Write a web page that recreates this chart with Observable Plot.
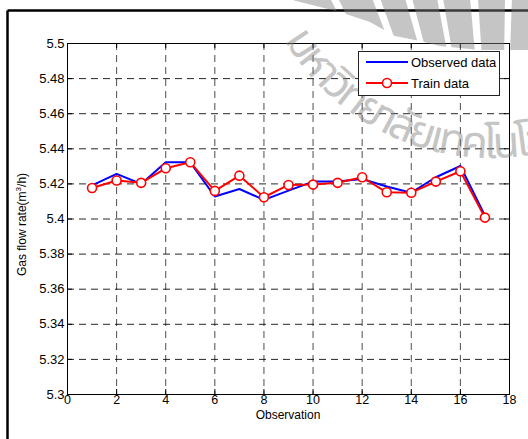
<!DOCTYPE html>
<html>
<head>
<meta charset="utf-8">
<script src="https://cdn.jsdelivr.net/npm/d3@7"></script>
<script src="https://cdn.jsdelivr.net/npm/@observablehq/plot@0.6"></script>
<style>
  html, body { margin: 0; padding: 0; background: #fff; }
  #chart { width: 528px; height: 439px; position: relative; overflow: hidden; }
  svg { display: block; }
</style>
</head>
<body>
<div id="chart"></div>
<script>
// ---- data ----
const observation = [1, 2, 3, 4, 5, 6, 7, 8, 9, 10, 11, 12, 13, 14, 15, 16, 17];
const observed = [5.4192, 5.4257, 5.4200, 5.4323, 5.4323, 5.4128, 5.4171, 5.4109, 5.4162, 5.4213, 5.4213, 5.4228, 5.4185, 5.4150, 5.4238, 5.4302, 5.4019];
const train = [5.4177, 5.4219, 5.4206, 5.4289, 5.4323, 5.4160, 5.4247, 5.4124, 5.4194, 5.4196, 5.4206, 5.4238, 5.4152, 5.4150, 5.4213, 5.4272, 5.4008];
const xTicks = [0, 2, 4, 6, 8, 10, 12, 14, 16, 18];
const yTicks = [5.3, 5.32, 5.34, 5.36, 5.38, 5.4, 5.42, 5.44, 5.46, 5.48, 5.5];
const xTickLabels = ["0", "2", "4", "6", "8", "10", "12", "14", "16", "18"];
const yTickLabels = ["5.3", "5.32", "5.34", "5.36", "5.38", "5.4", "5.42", "5.44", "5.46", "5.48", "5.5"];
const seriesNames = ["Observed data", "Train data"];
const xLabel = "Observation";
const yLabelParts = ["Gas flow rate(m", "3", "/h)"];
const watermarkText = "มหาวิทยาลัยเทคโนโลยีสุรนารี";

const obsRows = observation.map((o, i) => ({o, v: observed[i]}));
const trainRows = observation.map((o, i) => ({o, v: train[i]}));

const W = 528, H = 439, mL = 67, mR = 19, mT = 43, mB = 45;
const plotW = W - mL - mR, plotH = H - mT - mB;
const tickLen = 5;
const xInner = xTicks.slice(1, -1), yInner = yTicks.slice(1, -1);
const FONT = "'Liberation Sans', Arial, Helvetica, sans-serif";

const chart = Plot.plot({
  width: W, height: H,
  marginLeft: mL, marginRight: mR, marginTop: mT, marginBottom: mB,
  style: {fontFamily: FONT, fontSize: "13px", background: "transparent", color: "#000"},
  x: {domain: [0, 18]},
  y: {domain: [5.3, 5.5]},
  marks: [
    Plot.gridX(xInner, {stroke: "#000", strokeOpacity: 0.7, strokeDasharray: "7,5"}),
    Plot.gridY(yInner, {stroke: "#000", strokeOpacity: 0.85, strokeDasharray: "7,5"}),
    Plot.line(obsRows, {x: "o", y: "v", stroke: "#0000ff", strokeWidth: 2}),
    Plot.line(trainRows, {x: "o", y: "v", stroke: "#ff0000", strokeWidth: 2}),
    Plot.dot(trainRows, {x: "o", y: "v", r: 4.5, stroke: "#ff0000", strokeWidth: 1.6, fill: "#fff"}),
    Plot.tickX(xTicks, {x: d => d, insetTop: plotH - tickLen, stroke: "#000"}),
    Plot.tickX(xTicks, {x: d => d, insetBottom: plotH - tickLen, stroke: "#000"}),
    Plot.tickY(yTicks, {y: d => d, insetRight: plotW - tickLen, stroke: "#000"}),
    Plot.tickY(yTicks, {y: d => d, insetLeft: plotW - tickLen, stroke: "#000"}),
    Plot.frame({stroke: "#000"}),
    Plot.axisX(xTicks, {tickSize: 0, tickPadding: 1, fontSize: 12.5, label: null, tickFormat: (d) => xTickLabels[xTicks.indexOf(d)]}),
    Plot.axisY(yTicks, {tickSize: 0, tickPadding: 3, label: null, tickFormat: (d) => yTickLabels[yTicks.indexOf(d)]})
  ]
});

document.getElementById("chart").appendChild(chart);

const svg = d3.select(chart);
const defs = svg.append("defs");

// axis titles
svg.append("text").attr("x", mL + plotW / 2).attr("y", 418.5)
  .attr("text-anchor", "middle").attr("font-family", FONT).attr("font-size", 12).attr("fill", "#000")
  .text(xLabel);
const yl = svg.append("text").attr("transform", "translate(25.5,224.5) rotate(-90)")
  .attr("text-anchor", "middle").attr("font-family", FONT).attr("font-size", 12).attr("fill", "#000");
yl.append("tspan").text(yLabelParts[0]);
yl.append("tspan").attr("dy", -4.5).attr("font-size", 8).text(yLabelParts[1]);
yl.append("tspan").attr("dy", 4.5).text(yLabelParts[2]);

// figure border (left and top)
svg.append("line").attr("x1", 7.5).attr("y1", 10.5).attr("x2", W).attr("y2", 10.5)
  .attr("stroke", "#000").attr("stroke-width", 2.5);
svg.append("line").attr("x1", 7.5).attr("y1", 10.5).attr("x2", 7.5).attr("y2", H)
  .attr("stroke", "#000").attr("stroke-width", 2.5);

// watermark (fan stripes + curved Thai text)
const wm = svg.append("g").attr("opacity", 0.45);
defs.append("clipPath").attr("id", "fanclip").append("polygon")
  .attr("points", "285,-2 530,-2 530,50 480,50 440,46 420,41 395,36 370,22 340,12 300,2");
const fan = wm.append("g").attr("clip-path", "url(#fanclip)");
const focal = [500, 330];
const stripes = [[292, 330], [338, 372], [380, 405], [412, 437], [443, 470], [478, 505], [512, 540]];
stripes.forEach(([a, b]) => {
  fan.append("polygon").attr("points", `${a},-2 ${b},-2 ${focal[0]},${focal[1]}`).attr("fill", "#808080");
});
const arcD = "M 284.2,39.8 A 240,240 0 0 0 611,125.8";
defs.append("path").attr("id", "wmarc").attr("d", arcD);
wm.append("text").attr("font-size", 44).attr("letter-spacing", -3.3).attr("fill", "#808080").attr("text-anchor", "start")
  .attr("font-family", "'Noto Sans Thai', 'Noto Sans', 'DejaVu Sans', sans-serif")
  .append("textPath").attr("href", "#wmarc").attr("startOffset", 0).text(watermarkText);

// legend
const lg = svg.append("g").attr("font-family", FONT).attr("font-size", 13).attr("text-anchor", "start");
lg.append("rect").attr("x", 358.5).attr("y", 51.5).attr("width", 141).attr("height", 44)
  .attr("fill", "#fff").attr("stroke", "#222").attr("stroke-width", 1);
lg.append("line").attr("x1", 366).attr("x2", 408).attr("y1", 62).attr("y2", 62)
  .attr("stroke", "#0000ff").attr("stroke-width", 2);
lg.append("text").attr("x", 411).attr("y", 62).attr("dy", "0.35em").attr("fill", "#000").text(seriesNames[0]);
lg.append("line").attr("x1", 366).attr("x2", 408).attr("y1", 83).attr("y2", 83)
  .attr("stroke", "#ff0000").attr("stroke-width", 2);
lg.append("circle").attr("cx", 387).attr("cy", 83).attr("r", 4.5)
  .attr("stroke", "#ff0000").attr("stroke-width", 1.6).attr("fill", "#fff");
lg.append("text").attr("x", 411).attr("y", 83).attr("dy", "0.35em").attr("fill", "#000").text(seriesNames[1]);
</script>
</body>
</html>
